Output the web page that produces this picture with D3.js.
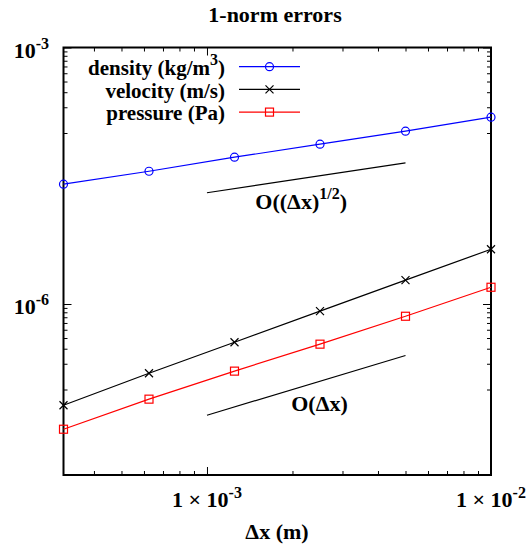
<!DOCTYPE html>
<html><head><meta charset="utf-8">
<script src="https://cdn.jsdelivr.net/npm/d3@7"></script>
<style>
html,body{margin:0;padding:0;background:#fff;}
text{font-family:"Liberation Serif","Times New Roman",serif;font-weight:bold;fill:#000;}
</style></head>
<body>
<svg id="chart" width="527" height="549"></svg>
<script>
// ---- data ----
const dx = [0.0003125, 0.000625, 0.00125, 0.0025, 0.005, 0.01];
const density = [2.52e-5, 3.57e-5, 5.21e-5, 7.40e-5, 1.05e-4, 1.53e-4];
const velocity = [6.55e-8, 1.55e-7, 3.57e-7, 8.24e-7, 1.90e-6, 4.37e-6];
const pressure = [3.43e-8, 7.71e-8, 1.64e-7, 3.39e-7, 7.19e-7, 1.57e-6];
const seriesNames = ["density (kg/m", "velocity (m/s)", "pressure (Pa)"];
const refHalfX = [1e-3, 5e-3];
const refHalfY = [2.0e-5, 4.47e-5];
const refOneX = [1e-3, 5e-3];
const refOneY = [5.0e-8, 2.5e-7];
const xMajorTicks = [1e-3, 1e-2];
const xMinorTicks = [4e-4,5e-4,6e-4,7e-4,8e-4,9e-4,2e-3,3e-3,4e-3,5e-3,6e-3,7e-3,8e-3,9e-3];
const yMajorTicks = [1e-3, 1e-6];
const yMinorTicks = [1e-4,2e-4,3e-4,4e-4,5e-4,6e-4,7e-4,8e-4,9e-4,1e-7,2e-7,3e-7,4e-7,5e-7,6e-7,7e-7,8e-7,9e-7];
const xTickExp = ["-3", "-2"];
const yTickExp = ["-3", "-6"];

// ---- layout ----
const svg = d3.select("#chart");
const L = 63.5, R = 491, T = 47.5, B = 475;
const x = d3.scaleLog().domain([0.0003125, 0.01]).range([L, R]);
const y = d3.scaleLog().domain([1e-8, 1e-3]).range([B, T]);
const FS = 22, SFS = 16, LFS = 21;

// ticks (inward, mirrored)
function tickAxis(axisFn, scale, vals, size, transform) {
  svg.append("g").attr("transform", transform)
    .call(axisFn(scale).tickValues(vals).tickSize(size).tickFormat(""))
    .call(g => g.select(".domain").remove())
    .call(g => g.selectAll("line").attr("stroke", "#000").attr("stroke-width", 1));
}
tickAxis(d3.axisBottom, x, xMajorTicks, -8, `translate(0,${B})`);
tickAxis(d3.axisBottom, x, xMinorTicks, -4, `translate(0,${B})`);
tickAxis(d3.axisTop, x, xMajorTicks, -8, `translate(0,${T})`);
tickAxis(d3.axisTop, x, xMinorTicks, -4, `translate(0,${T})`);
tickAxis(d3.axisLeft, y, yMajorTicks, -8, `translate(${L},0)`);
tickAxis(d3.axisLeft, y, yMinorTicks, -4, `translate(${L},0)`);
tickAxis(d3.axisRight, y, yMajorTicks, -8, `translate(${R},0)`);
tickAxis(d3.axisRight, y, yMinorTicks, -4, `translate(${R},0)`);

// frame
svg.append("rect").attr("x", L).attr("y", T).attr("width", R - L).attr("height", B - T)
  .attr("fill", "none").attr("stroke", "#000").attr("stroke-width", 2);

// tick labels
yMajorTicks.forEach((v, i) => {
  const t = svg.append("text").attr("x", 49).attr("y", y(v) + 10)
    .attr("text-anchor", "end").attr("font-size", FS);
  t.append("tspan").text("10");
  t.append("tspan").attr("dy", -9).attr("font-size", SFS).text(yTickExp[i]);
});
xMajorTicks.forEach((v, i) => {
  const t = svg.append("text").attr("x", x(v)).attr("y", 507)
    .attr("text-anchor", "middle").attr("font-size", FS);
  t.append("tspan").text("1 \u00d7 10");
  t.append("tspan").attr("dy", -9).attr("font-size", SFS).text(xTickExp[i]);
});

// title and axis label
svg.append("text").attr("x", 275).attr("y", 22).attr("text-anchor", "middle")
  .attr("font-size", FS).text("1-norm errors");
svg.append("text").attr("x", 277).attr("y", 539).attr("text-anchor", "middle")
  .attr("font-size", FS).text("\u0394x (m)");

// reference lines
const line = d3.line().x(d => x(d[0])).y(d => y(d[1]));
svg.append("path").datum(d3.zip(refHalfX, refHalfY)).attr("d", line)
  .attr("fill", "none").attr("stroke", "#000").attr("stroke-width", 1.2);
svg.append("path").datum(d3.zip(refOneX, refOneY)).attr("d", line)
  .attr("fill", "none").attr("stroke", "#000").attr("stroke-width", 1.2);
{
  const t = svg.append("text").attr("x", x(1.48e-3)).attr("y", y(1.29e-5)).attr("font-size", FS);
  t.append("tspan").text("O((\u0394x)");
  t.append("tspan").attr("dy", -10).attr("font-size", SFS).text("1/2");
  t.append("tspan").attr("dy", 10).text(")");
}
svg.append("text").attr("x", x(1.98e-3)).attr("y", y(5.57e-8)).attr("font-size", FS).text("O(\u0394x)");

// series
const series = [
  {vals: density, color: "#0000ff", marker: "circle"},
  {vals: velocity, color: "#000000", marker: "cross"},
  {vals: pressure, color: "#ff0000", marker: "square"}
];
function drawMarker(g, type, color, cx, cy) {
  if (type === "circle") {
    g.append("circle").attr("cx", cx).attr("cy", cy).attr("r", 4)
      .attr("fill", "none").attr("stroke", color).attr("stroke-width", 1.2);
  } else if (type === "square") {
    g.append("rect").attr("x", cx - 4).attr("y", cy - 4).attr("width", 8).attr("height", 8)
      .attr("fill", "none").attr("stroke", color).attr("stroke-width", 1.2);
  } else {
    g.append("path").attr("d", `M${cx-4},${cy-4}L${cx+4},${cy+4}M${cx-4},${cy+4}L${cx+4},${cy-4}`)
      .attr("stroke", color).attr("stroke-width", 1.2);
  }
}
series.forEach(s => {
  const g = svg.append("g");
  g.append("path").datum(d3.zip(dx, s.vals)).attr("d", line)
    .attr("fill", "none").attr("stroke", s.color).attr("stroke-width", 1.2);
  dx.forEach((d, i) => drawMarker(g, s.marker, s.color, x(d), y(s.vals[i])));
});

// legend
series.forEach((s, i) => {
  const ly = 66.7 + i * 22.7;
  const t = svg.append("text").attr("x", 225).attr("y", ly + 8.3).attr("text-anchor", "end").attr("font-size", LFS);
  if (i === 0) {
    t.append("tspan").text(seriesNames[0]);
    t.append("tspan").attr("dy", -10).attr("font-size", SFS).text("3");
    t.append("tspan").attr("dy", 10).text(")");
  } else {
    t.text(seriesNames[i]);
  }
  const g = svg.append("g");
  g.append("line").attr("x1", 239).attr("x2", 300).attr("y1", ly).attr("y2", ly)
    .attr("stroke", s.color).attr("stroke-width", 1.2);
  drawMarker(g, s.marker, s.color, 269.5, ly);
});
</script>
</body></html>
